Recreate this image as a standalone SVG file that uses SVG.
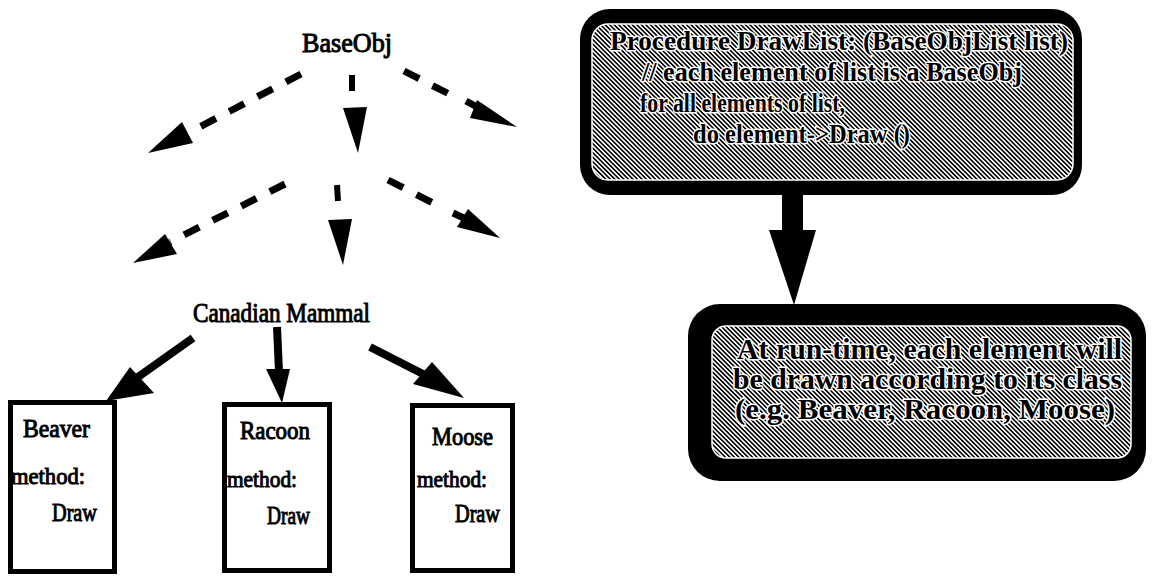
<svg xmlns="http://www.w3.org/2000/svg" width="1154" height="576" viewBox="0 0 1154 576">
  <defs>
    <style>
      .lbl { font-family: "Liberation Serif", "Times New Roman", serif; fill: #000; stroke: #000; stroke-width: 1; }
      .dash { fill: none; stroke: #000; stroke-width: 7; stroke-dasharray: 17 15; }
      .solid { fill: none; stroke: #000; stroke-width: 8; }
      .head { fill: #000; stroke: none; }
      .cls { fill: #fff; stroke: #000; stroke-width: 5; }
      .callout-frame { fill: #000; }
      .callout-body { fill: url(#hatch); stroke: #fff; stroke-width: 1.5; }
      .callout-text { font-family: "Liberation Serif", "Times New Roman", serif; font-weight: bold; fill: #000; stroke: #fff; stroke-width: 3; paint-order: stroke; stroke-linejoin: round; }
    </style>
    <!-- diagonal hatch used as the grey halftone of the callouts -->
    <pattern id="hatch" patternUnits="userSpaceOnUse" width="3.2" height="3.2" patternTransform="rotate(-45)">
      <rect width="3.2" height="3.2" fill="#fff"/>
      <rect width="1.6" height="3.2" fill="#000"/>
    </pattern>
  </defs>

  <!-- class hierarchy connectors -->
  <g id="connectors">
    <!-- BaseObj level (dashed) -->
    <path class="dash" d="M301,74 L188,133"/>
    <polygon class="head" points="148,153 182,122 193,143"/>
    <line x1="352" y1="75" x2="352" y2="91" stroke="#000" stroke-width="6"/>
    <polygon class="head" points="343,108 367,107 358,153"/>
    <path class="dash" d="M404,71 L455,97"/>
    <line x1="466" y1="101" x2="477" y2="107" stroke="#000" stroke-width="7"/>
    <polygon class="head" points="477,100 470,118 517,127"/>

    <!-- intermediate level (dashed) -->
    <path class="dash" d="M285,184 L170,242"/>
    <polygon class="head" points="133,263 165,234 177,254"/>
    <line x1="337" y1="185" x2="338" y2="201" stroke="#000" stroke-width="6"/>
    <polygon class="head" points="328,220 352,219 343,265"/>
    <path class="dash" d="M388,180 L437,205"/>
    <line x1="453" y1="213" x2="466" y2="219" stroke="#000" stroke-width="7"/>
    <polygon class="head" points="468,209 457,227 500,238"/>

    <!-- Canadian Mammal to concrete classes (solid) -->
    <path class="solid" d="M193,338 L138,377"/>
    <polygon class="head" points="106,401 130,367 154,393"/>
    <path class="solid" d="M277,327 L279,372"/>
    <polygon class="head" points="266,369 290,369 282,403"/>
    <path class="solid" d="M370,347 L425,375"/>
    <polygon class="head" points="464,398 413,384 432,362"/>

    <!-- callout link -->
    <rect x="782" y="190" width="21" height="42" fill="#000"/>
    <polygon class="head" points="769,230 816,230 794,305"/>
  </g>

  <g id="node-baseobj">
    <text class="lbl" x="302" y="52" font-size="27" textLength="90" lengthAdjust="spacingAndGlyphs">BaseObj</text>
  </g>

  <g id="node-canadian-mammal">
    <text class="lbl" x="193" y="322" font-size="27" textLength="177" lengthAdjust="spacingAndGlyphs">Canadian Mammal</text>
  </g>

  <g id="node-beaver">
    <rect class="cls" x="10.5" y="402.5" width="104" height="169"/>
    <text class="lbl" x="23" y="437" font-size="25" textLength="67" lengthAdjust="spacingAndGlyphs">Beaver</text>
    <text class="lbl" x="11" y="484" font-size="24" textLength="74" lengthAdjust="spacingAndGlyphs">method:</text>
    <text class="lbl" x="52" y="521" font-size="26" textLength="45" lengthAdjust="spacingAndGlyphs">Draw</text>
  </g>

  <g id="node-racoon">
    <rect class="cls" x="224.5" y="404.5" width="105" height="166"/>
    <text class="lbl" x="240" y="439" font-size="25" textLength="70" lengthAdjust="spacingAndGlyphs">Racoon</text>
    <text class="lbl" x="227" y="487" font-size="24" textLength="70" lengthAdjust="spacingAndGlyphs">method:</text>
    <text class="lbl" x="267" y="524" font-size="26" textLength="43" lengthAdjust="spacingAndGlyphs">Draw</text>
  </g>

  <g id="node-moose">
    <rect class="cls" x="412.5" y="405.5" width="100" height="165"/>
    <text class="lbl" x="432" y="445" font-size="25" textLength="61" lengthAdjust="spacingAndGlyphs">Moose</text>
    <text class="lbl" x="417" y="487" font-size="24" textLength="70" lengthAdjust="spacingAndGlyphs">method:</text>
    <text class="lbl" x="455" y="522" font-size="26" textLength="45" lengthAdjust="spacingAndGlyphs">Draw</text>
  </g>

  <g id="node-drawlist">
    <rect class="callout-frame" x="580" y="9" width="502" height="186" rx="30"/>
    <rect class="callout-body" x="592" y="24" width="481" height="156" rx="16"/>
    <text class="callout-text" x="610" y="50" font-size="27" textLength="458" lengthAdjust="spacingAndGlyphs">Procedure  DrawList: (BaseObjList list)</text>
    <text class="callout-text" x="642" y="81" font-size="27" textLength="380" lengthAdjust="spacingAndGlyphs">// each element of list is a BaseObj</text>
    <text class="callout-text" x="640" y="112" font-size="27" textLength="205" lengthAdjust="spacingAndGlyphs">for all elements of list,</text>
    <text class="callout-text" x="693" y="143" font-size="27" textLength="217" lengthAdjust="spacingAndGlyphs">do element-&gt;Draw ()</text>
  </g>

  <g id="node-runtime">
    <rect class="callout-frame" x="688" y="304" width="458" height="177" rx="32"/>
    <rect class="callout-body" x="712" y="326" width="419" height="132" rx="14"/>
    <text class="callout-text" x="737" y="359" font-size="29" textLength="385" lengthAdjust="spacingAndGlyphs">At run-time, each element will</text>
    <text class="callout-text" x="733" y="389" font-size="29" textLength="389" lengthAdjust="spacingAndGlyphs">be drawn according to its class</text>
    <text class="callout-text" x="735" y="419" font-size="29" textLength="380" lengthAdjust="spacingAndGlyphs">(e.g. Beaver, Racoon, Moose)</text>
  </g>
</svg>
